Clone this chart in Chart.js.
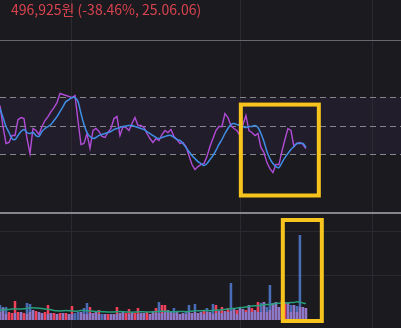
<!DOCTYPE html>
<html>
<head>
<meta charset="utf-8">
<script src="https://cdn.jsdelivr.net/npm/chart.js@4.4.1/dist/chart.umd.min.js"></script>
<style>
html, body { margin: 0; padding: 0; background: #1a1a1f; }
#wrap { position: relative; width: 401px; height: 328px; overflow: hidden; }
#price { position: absolute; left: 11px; top: 0px; font: 14px "Noto Sans CJK KR"; line-height: 19px; color: #d9434f; }
</style>
</head>
<body>
<div id="wrap">
  <canvas id="chart" width="401" height="328"></canvas>
  <div id="price">496,925원 (-38.46%, 25.06.06)</div>
</div>
<script>
// RSI and its signal line (one value per trading day)
const rsi = [64,49.3,37.4,38.1,43,43,54.2,55.6,54.9,40.9,
  30.4,47.9,46.5,43.7,49.3,53.5,56.3,59.8,62.6,66.1,
  72.5,71.8,71.1,70.4,69.6,71.1,53.5,36.7,37.4,44.4,
  33.9,46.5,47.9,45.8,42.3,41.6,45.1,47.9,54.9,56.3,
  43,49.3,48.6,46.5,51.4,55.6,50,50,48.6,44.4,
  40.9,38.1,40.9,39.5,43.7,46.5,45.1,47.2,42.3,40.2,
  37.4,38.1,35.3,28.9,22.6,19.1,21.2,22.6,23.3,28.2,
  35.3,40.9,46.5,49.3,49.3,58.4,55.6,50,47.9,46.5,
  43,50.7,57,46.5,45.1,43,44.4,34.6,31.1,24,
  19.8,17,22.6,22.6,31.8,40.2,47.9,46.5,35.3,37.4,
  38.1,36.7,33.9];
const rsiSignal = [61.9,55.6,49.3,45.1,40.9,40.2,43,45.8,47.2,45.1,
  44.4,45.1,43,42.3,45.8,47.9,49.3,50.7,53.5,56.3,
  59.8,63.3,66.8,68.2,69.6,69.6,66.8,58.4,50.7,45.1,
  42.3,40.9,41.6,43,43.7,44.4,45.1,45.8,47.2,47.9,
  48.6,49.3,49.6,50,50,49.3,48.6,47.9,47.2,45.8,
  44.4,43,41.6,40.9,41.6,42.3,43,43,41.6,40.2,
  39.5,37.4,34.6,31.8,28.9,26.8,24.7,23.3,21.9,23.3,
  26.1,28.9,32.5,36.7,40.2,44.4,47.9,50.7,51.4,50.7,
  50,49.3,48.6,49.3,49.3,50,48.6,44.4,38.8,31.8,
  26.8,23.3,21.2,20.5,24,27.5,30.4,33.2,35.3,37.4,
  37.4,37.4,34.6];
const rsiLevels = [70, 50, 30];

// volume, two overlapping series, and its moving average
const volRed = [8,12,6,8,7,19,8,8,7,6,
  8,10,9,8,7,8,15,7,7,6,
  7,7,7,6,14,0,0,8,6,6,
  13,7,8,10,0,6,6,6,6,13,
  7,8,7,11,7,7,12,7,7,8,
  6,9,12,7,15,15,10,8,7,8,
  6,7,6,8,7,8,7,8,10,8,
  8,6,15,9,13,9,12,9,12,10,
  12,11,10,15,12,10,18,8,18,8,
  10,17,18,13,20,18,17,8,15,8,
  13,13,12];
const volBlue = [15,13,13,0,0,7,0,8,0,17,
  16,10,0,8,7,0,6,7,0,6,
  0,7,0,6,6,7,8,8,12,17,
  7,7,8,6,6,6,0,6,6,6,
  7,8,0,6,7,0,6,7,7,0,
  6,9,7,18,7,8,10,8,12,8,
  6,7,9,15,7,16,7,8,6,12,
  8,16,7,9,7,9,8,37,12,6,
  12,11,8,15,8,10,8,17,18,13,
  35,17,18,13,0,0,17,15,15,14,
  85,13,12];
const volAvg = [10,10.2,10.4,10.6,11,11.2,11,11.1,11.3,11.8,
  12,12.2,12,11.8,11.5,11,10.8,10.2,9.6,9.2,
  9,9.2,9.5,9.3,9,8.8,9,9.4,9.6,9.2,
  9,8.8,8.6,8.5,8.3,8.2,8,7.9,8,8.2,
  8.4,8.3,8.1,8,7.8,7.9,8.1,8.3,8.2,8,
  7.9,8,8.3,8.6,8.8,8.7,8.5,8.3,8.2,8.4,
  8.6,8.5,8.3,8.5,8.8,9,9.3,9.2,9.4,9.6,
  9.3,9.5,9.8,10,10.2,10.6,11,11.3,11.6,12,
  12.4,12.6,13,13.5,14,14.3,14.2,14.8,15.3,15.6,
  15.4,16,16.5,16.8,16.6,16.9,17.2,17.4,17.6,18.2,
  17.8,17,16.4];
const volGrid = [45, 89];

// month separators (day index) and highlighted ranges
const monthGrid = [23.7, 80, 124];
const highlights = [
  { axis: 'yR', from: 80.3, to: 106.3, top: 64.7, bottom: 0.9 },
  { axis: 'yV', from: 94.3, to: 107.3, top: 100, bottom: -1 }
];

const days = rsi.map((_, i) => i);

const decor = {
  id: 'decor',
  beforeDraw(chart) {
    const { ctx, chartArea: a, scales } = chart;
    const t = scales.yR.getPixelForValue(rsiLevels[0]);
    const b = scales.yR.getPixelForValue(rsiLevels[2]);
    ctx.save();
    ctx.fillStyle = '#221d2b';
    ctx.fillRect(a.left, t, a.width, b - t);
    // faint grid
    ctx.strokeStyle = '#2a2a30';
    ctx.lineWidth = 1;
    monthGrid.forEach(v => {
      const x = Math.round(scales.x.getPixelForValue(v)) + 0.5;
      ctx.beginPath(); ctx.moveTo(x, a.top); ctx.lineTo(x, a.bottom); ctx.stroke();
    });
    volGrid.forEach(v => {
      const y = Math.round(scales.yV.getPixelForValue(v)) + 0.5;
      ctx.beginPath(); ctx.moveTo(a.left, y); ctx.lineTo(a.right, y); ctx.stroke();
    });
    ctx.restore();
  },
  beforeDatasetsDraw(chart) {
    const { ctx, chartArea: a, scales } = chart;
    ctx.save();
    ctx.strokeStyle = '#85858b';
    ctx.lineWidth = 1;
    ctx.setLineDash([6, 4]);
    rsiLevels.forEach(v => {
      const y = Math.round(scales.yR.getPixelForValue(v)) + 0.5;
      ctx.beginPath(); ctx.moveTo(a.left, y); ctx.lineTo(a.right, y); ctx.stroke();
    });
    ctx.setLineDash([]);
    // panel separators
    ctx.strokeStyle = '#66666c';
    ctx.beginPath(); ctx.moveTo(a.left, 40.5); ctx.lineTo(a.right, 40.5); ctx.stroke();
    ctx.strokeStyle = '#86868c';
    ctx.lineWidth = 2;
    ctx.beginPath(); ctx.moveTo(a.left, 213); ctx.lineTo(a.right, 213); ctx.stroke();
    ctx.restore();
  },
  afterDatasetsDraw(chart) {
    const { ctx, scales } = chart;
    ctx.save();
    ctx.strokeStyle = '#f6c41c';
    ctx.lineWidth = 4;
    highlights.forEach(h => {
      const x0 = scales.x.getPixelForValue(h.from), x1 = scales.x.getPixelForValue(h.to);
      const y0 = scales[h.axis].getPixelForValue(h.top), y1 = scales[h.axis].getPixelForValue(h.bottom);
      ctx.strokeRect(x0, y0, x1 - x0, y1 - y0);
    });
    ctx.restore();
  }
};

new Chart(document.getElementById('chart'), {
  type: 'bar',
  data: {
    labels: days,
    datasets: [
      { type: 'bar', data: volRed, yAxisID: 'yV', backgroundColor: 'rgb(240,64,90)', order: 6,
        grouped: false, barPercentage: 0.85, categoryPercentage: 1 },
      { type: 'bar', data: volBlue, yAxisID: 'yV', backgroundColor: 'rgba(95,145,250,0.7)', order: 5,
        grouped: false, barPercentage: 0.85, categoryPercentage: 1 },
      { type: 'line', data: volAvg, yAxisID: 'yV', borderColor: '#26a07a', borderWidth: 1.5,
        pointRadius: 0, tension: 0.3, order: 4 },
      { type: 'line', data: rsi, yAxisID: 'yR', borderColor: '#b04cd6', borderWidth: 1.4,
        pointRadius: 0, tension: 0, order: 3 },
      { type: 'line', data: rsiSignal, yAxisID: 'yR', borderColor: '#3f8ee6', borderWidth: 1.5,
        pointRadius: 0, tension: 0.35, order: 2 }
    ]
  },
  options: {
    responsive: false,
    animation: false,
    devicePixelRatio: 1,
    layout: { padding: 0 },
    plugins: { legend: { display: false }, tooltip: { enabled: false } },
    scales: {
      x: { type: 'linear', display: false, min: 0, max: 133.7, offset: false },
      yR: { display: false, min: -92.1, max: 138.1 },
      yV: { display: false, min: -8, max: 320 }
    }
  },
  plugins: [decor]
});
</script>
</body>
</html>
